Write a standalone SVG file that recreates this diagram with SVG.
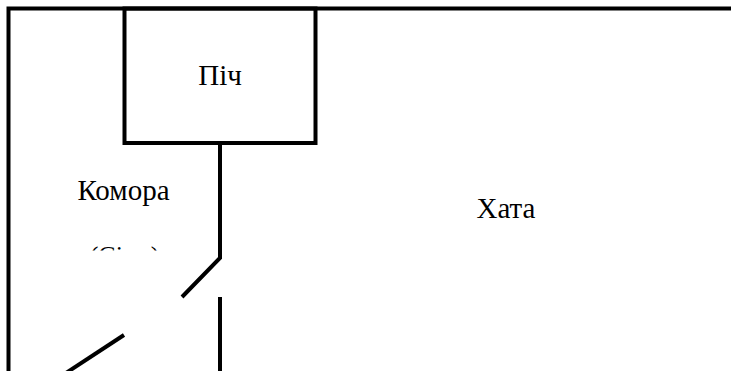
<svg xmlns="http://www.w3.org/2000/svg" width="731" height="371" viewBox="0 0 731 371">
<style>
.w{fill:none;stroke:#000;stroke-width:4}
text{font-family:"Liberation Serif",serif;font-size:29px;fill:#000;text-anchor:middle}
</style>
<rect width="731" height="371" fill="#fff"/>
<g id="connectors">
<path class="w" d="M731 8.500H8.500V371"/>
<path class="w" d="M220 143V258L182 297"/>
<path class="w" d="M220 297V371"/>
<path class="w" d="M124 335L66 373"/>
</g>
<g id="pich"><rect class="w" x="124.500" y="8.500" width="191" height="134.500"/><text x="220" y="85">Піч</text></g>
<g id="komora"><text x="123.500" y="200">Комора</text>
<svg x="60" y="235" width="130" height="15.500" viewBox="60 235 130 15.500"><text x="124.500" y="264" style="font-size:26px">(Сіни)</text></svg></g>
<g id="khata"><text x="506" y="218">Хата</text></g>
</svg>
